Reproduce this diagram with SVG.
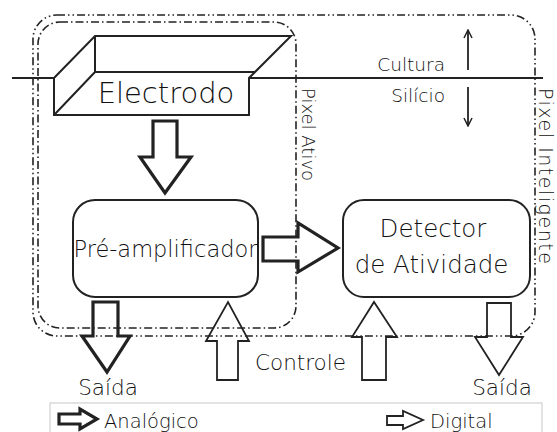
<svg xmlns="http://www.w3.org/2000/svg" width="557" height="432" viewBox="0 0 557 432">
<style>
  .ln { fill: none; stroke: #222; stroke-width: 2; stroke-linejoin: miter; }
  .box { fill: none; stroke: #222; stroke-width: 2; }
  .thick { fill: none; stroke: #222; stroke-width: 3.2; stroke-linejoin: miter; }
  .thin { fill: none; stroke: #222; stroke-width: 1.8; stroke-linejoin: miter; }
  .outer { fill: none; stroke: #222; stroke-width: 1.6; stroke-dasharray: 8 3 1.5 3 1.5 3; }
  .inner { fill: none; stroke: #222; stroke-width: 1.6; stroke-dasharray: 8 3 1.5 3; }
  text { font-family: "DejaVu Sans", "Liberation Sans", sans-serif; font-weight: 200; fill: #111; }
</style>
<defs>
  <marker id="chev" viewBox="0 0 10 10" refX="9" refY="5" markerWidth="10" markerHeight="10" markerUnits="userSpaceOnUse" orient="auto">
    <path d="M1,1 L9,5 L1,9" fill="none" stroke="#222" stroke-width="1.5"/>
  </marker>
</defs>
<rect width="557" height="432" fill="#fff"/>

<g id="pixel-inteligente">
  <rect class="outer" x="33" y="15" width="502" height="321" rx="24" ry="24"/>
  <text font-size="19" transform="translate(538.5,88) rotate(90)" textLength="176">Pixel Inteligente</text>
</g>
<g id="pixel-ativo">
  <rect class="inner" x="38" y="22" width="258" height="306" rx="22" ry="22"/>
  <text font-size="18" transform="translate(302,88) rotate(90)">Pixel Ativo</text>
</g>

<g id="substrato">
  <path class="ln" d="M12,78 H54 M249,78 H543"/>
  <text font-size="18.5" x="445" y="71" text-anchor="end">Cultura</text>
  <text font-size="18.5" x="445" y="102" text-anchor="end">Silício</text>
  <path class="thin" d="M468,70 V30" marker-end="url(#chev)"/>
  <path class="thin" d="M468,87 V126" marker-end="url(#chev)"/>
</g>

<g id="electrodo">
  <path class="ln" d="M54,78 L95,36 H291 L249,78 V115 H54 Z M95,36 V72 H255 M95,72 L55,114"/>
  <text font-size="29" x="166" y="103" text-anchor="middle">Electrodo</text>
</g>

<g id="pre-amplificador">
  <rect class="box" x="73" y="200" width="185" height="97" rx="22" ry="22"/>
  <text font-size="22.5" x="165.5" y="257" text-anchor="middle">Pré-amplificador</text>
</g>

<g id="detector">
  <rect class="box" x="343" y="200" width="187" height="97" rx="21" ry="21"/>
  <text font-size="24.5" x="433" y="237" text-anchor="middle">Detector</text>
  <text font-size="24.5" x="431.5" y="273" text-anchor="middle">de Atividade</text>
</g>

<g id="connectors">
  <polygon class="thick" points="153,121 177,121 177,157 191,157 165,193 140,157 153,157"/>
  <polygon class="thick" points="263,237 298,237 298,223 338,248 298,272 298,261 263,261"/>
  <polygon class="thick" points="93,302 118,302 118,336 130,336 107,372 82,336 93,336"/>
  <polygon class="thin" points="217,380 238,380 238,341 249,341 228,302 206,341 217,341"/>
  <polygon class="thin" points="362,380 386,380 386,337 397,337 374,302 352,337 362,337"/>
  <polygon class="thin" points="487,303 511,303 511,337 523,337 499,375 475,337 487,337"/>
</g>

<g id="labels">
  <text font-size="21.5" x="108" y="395" text-anchor="middle">Saída</text>
  <text font-size="21.5" x="502" y="395" text-anchor="middle">Saída</text>
  <text font-size="21.5" x="255" y="370">Controle</text>
</g>

<g id="legenda">
  <rect x="50" y="403" width="492" height="40" fill="none" stroke="#d0d0d0" stroke-width="1.2"/>
  <polygon class="thick" points="59,414 80,414 80,409 97,419 80,429 80,424 59,424"/>
  <text font-size="19.5" x="104" y="428">Analógico</text>
  <polygon class="thin" points="387,416 403,416 403,411 423,420 403,429 403,425 387,425"/>
  <text font-size="19.5" x="430" y="428">Digital</text>
</g>
</svg>
